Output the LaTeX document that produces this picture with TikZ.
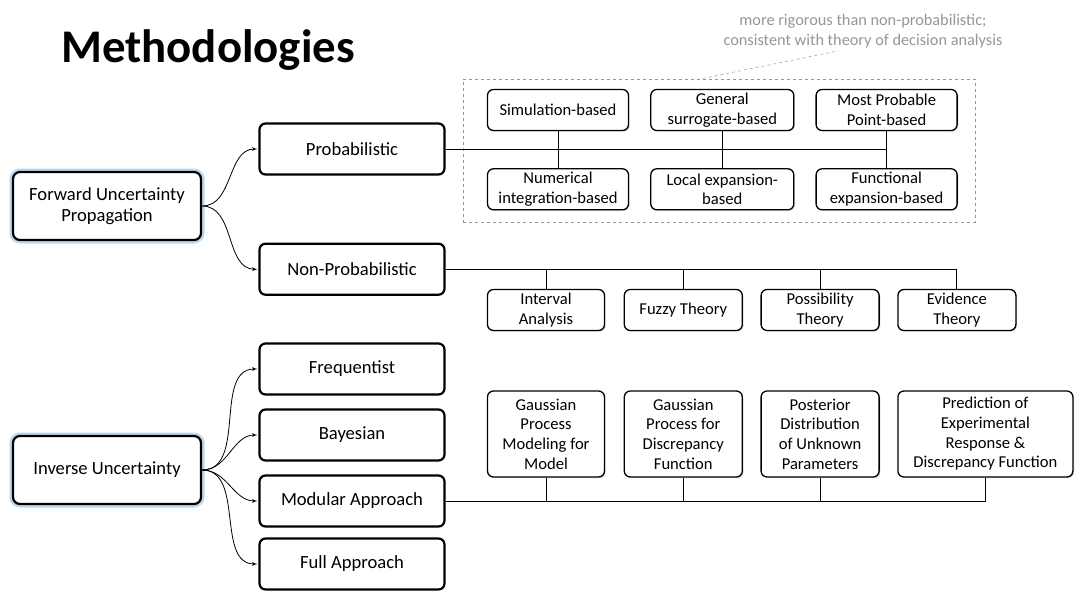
\documentclass[tikz,border=0pt]{standalone}
\usepackage{fontspec}
\setmainfont{Carlito}
\usepackage{tikz}
\usetikzlibrary{arrows}
\usetikzlibrary{positioning}
\usetikzlibrary{shadows}

\definecolor{glowblue}{RGB}{189,215,238}
\definecolor{notegray}{RGB}{150,150,150}

\begin{document}
\begin{tikzpicture}[x=1pt,y=-1pt,>=latex',
  root node/.style={rectangle,rounded corners=7pt,draw,line width=2.2pt,
    preaction={draw=glowblue,line width=7pt},fill=white,
    minimum width=188pt,minimum height=68pt,align=center,
    font=\fontsize{18.6}{21}\selectfont},
  main node/.style={rectangle,rounded corners=6pt,draw,line width=2.2pt,
    minimum width=185pt,minimum height=51pt,align=center,
    font=\fontsize{18.6}{21}\selectfont},
  leaf node/.style={rectangle,rounded corners=6pt,draw,line width=1.3pt,fill=white,
    drop shadow={opacity=0.3,shadow xshift=1.2pt,shadow yshift=-1.2pt},
    minimum height=41pt,align=center,font=\fontsize{16.6}{19.7}\selectfont},
  link/.style={line width=0.9pt},
  branch/.style={->,line width=0.8pt,shorten >=1pt}]

  \useasboundingbox (0,0) rectangle (1082,595);

  \node[font=\fontsize{46.8}{52}\selectfont\bfseries] (title) at (208,50) {Methodologies};

  % forward problem
  \node[root node] (fwd) at (107,206) {Forward Uncertainty\\Propagation};
  \node[main node] (prob) at (352,149) {Probabilistic};
  \node[main node] (nonprob) [below=67pt of prob] {Non-Probabilistic};

  \node[draw=notegray,dashed,line width=0.6pt,minimum width=512pt,minimum height=143pt]
    (grp) at (719,150.5) {};
  \node[text=notegray,align=center,font=\fontsize{16.3}{20}\selectfont] (note) at (863,31)
    {more rigorous than non-probabilistic;\\consistent with theory of decision analysis};
  \coordinate (tip) at (700,79);
  \draw[notegray,dashed,line width=0.5pt] ([xshift=-28pt]note.south) -- (tip);

  \node[leaf node,minimum width=141pt] (sim) at (558,110) {Simulation-based};
  \node[leaf node,minimum width=143pt] (surr) [right=21pt of sim] {General\\surrogate-based};
  \node[leaf node,minimum width=141pt] (mpp) [right=21pt of surr] {Most Probable\\Point-based};
  \node[leaf node,minimum width=141pt] (num) [below=37pt of sim] {Numerical\\integration-based};
  \node[leaf node,minimum width=143pt] (local) [below=37pt of surr] {Local expansion-\\based};
  \node[leaf node,minimum width=141pt] (func) [below=37pt of mpp] {Functional\\expansion-based};

  \draw[link] (prob.east) -- (prob.east -| mpp.south);
  \draw[link] (sim) -- (num);
  \draw[link] (surr) -- (local);
  \draw[link] (mpp) -- (func);

  \node[leaf node,minimum width=117pt] (interval) at (546,310) {Interval\\Analysis};
  \node[leaf node,minimum width=118pt] (fuzzy) [right=18.5pt of interval] {Fuzzy Theory};
  \node[leaf node,minimum width=118pt] (poss) [right=17.5pt of fuzzy] {Possibility\\Theory};
  \node[leaf node,minimum width=118pt] (evid) [right=17.5pt of poss] {Evidence\\Theory};

  \draw[link] (nonprob.east) -| (evid.north);
  \foreach \n in {interval,fuzzy,poss}
    \draw[link] (\n.north) -- (\n.north |- nonprob.east);

  \path[branch]
    (fwd.east) edge[out=0,in=180] (prob.west)
    (fwd.east) edge[out=0,in=180] (nonprob.west);

  % inverse problem
  \node[root node] (inv) at (107,470) {Inverse Uncertainty};
  \node[main node] (freq) at (352,369) {Frequentist};
  \node[main node] (bayes) at (352,435) {Bayesian};
  \node[main node] (modular) at (352,501) {Modular Approach};
  \node[main node] (full) at (352,564) {Full Approach};

  \path[branch]
    (inv.east) edge[out=0,in=180] (freq.west)
    (inv.east) edge[out=0,in=180] (bayes.west)
    (inv.east) edge[out=0,in=180] (modular.west)
    (inv.east) edge[out=0,in=180] (full.west);

  \node[leaf node,minimum width=117pt,minimum height=86pt] (gpmodel) at (546,434)
    {Gaussian\\Process\\Modeling for\\Model};
  \node[leaf node,minimum width=118pt,minimum height=86pt] (gpdisc) [right=18.5pt of gpmodel]
    {Gaussian\\Process for\\Discrepancy\\Function};
  \node[leaf node,minimum width=118pt,minimum height=86pt] (post) [right=17.5pt of gpdisc]
    {Posterior\\Distribution\\of Unknown\\Parameters};
  \node[leaf node,minimum width=175pt,minimum height=86pt] (pred) [right=17.5pt of post]
    {Prediction of\\Experimental\\Response \&\\Discrepancy Function};

  \draw[link] (modular.east) -| (pred.south);
  \foreach \n in {gpmodel,gpdisc,post}
    \draw[link] (\n.south) -- (\n.south |- modular.east);
\end{tikzpicture}
\end{document}
